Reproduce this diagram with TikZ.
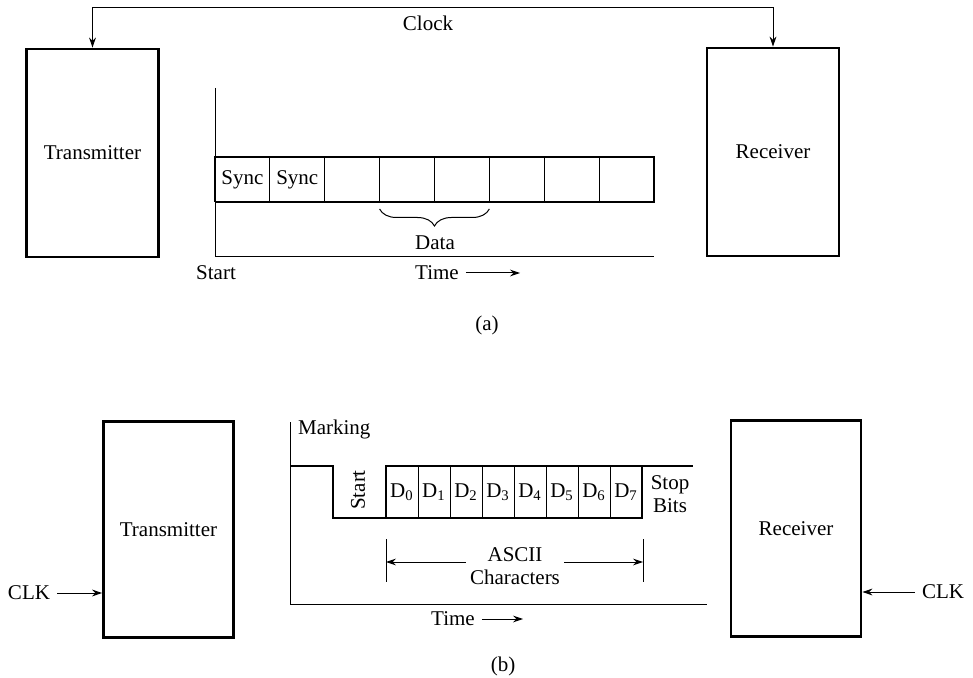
\documentclass[tikz,border=0pt]{standalone}
\usepackage{fontspec}
\setmainfont{Liberation Serif}
\usetikzlibrary{positioning, arrows.meta, decorations.pathreplacing}

\begin{document}
\begin{tikzpicture}[x=0.5pt, y=-0.5pt, line width=0.5pt,
   >={Stealth[length=5pt, width=3.4pt]},
   font=\fontsize{10.5}{11.5}\selectfont,
   unit/.style={draw, line width=1.4pt, minimum width=66pt, minimum height=104pt},
   cell/.style={draw, outer sep=0pt, inner sep=0pt, minimum width=27.44pt, minimum height=22.5pt},
   bitcell/.style={draw, outer sep=0pt, inner sep=0pt, minimum width=16pt, minimum height=26pt},
   heavy/.style={line width=1.4pt}]
   \useasboundingbox (0,0) rectangle (973,678);

   % (a) synchron: gemeinsamer Takt
   \node[unit] (txa) at (92.5,153) {Transmitter};
   \node[unit] (rxa) at (773,152) {Receiver};
   \coordinate (clk) at (430,7.5);
   \draw[->] (clk) -| (txa.north);
   \draw[->] (clk) -| (rxa.north);
   \node at (428,23) {Clock};

   % Achsen (a)
   \coordinate (ya) at (215,88);
   \coordinate (oa) at (215,257);
   \coordinate (xa) at (654,257);
   \draw (ya) -- (oa) -- (xa);

   % Rahmen mit Sync-Zeichen
   \foreach \t [count=\i from 0] in {Sync,Sync,,,,,,}
     \node[cell] (s\i) at (242.4+54.875*\i,179.5) {\t};
   \draw[heavy] (s0.north west) -| (s7.south east) -- (s0.south west);
   \draw[decorate, decoration={brace, mirror, amplitude=8.5pt}]
     ([yshift=-3.5pt]s3.south west) -- ([yshift=-3.5pt]s4.south east);
   \node at (435,243) {Data};

   \node at (216,273) {Start};
   \node (timea) at (437,273) {Time};
   \coordinate (ta) at (520,273);
   \draw[->] (timea) -- (ta);
   \node at (487,325) {(a)};

   % (b) asynchron: eigener Takt
   \node[unit, minimum width=65pt, minimum height=108pt] (txb) at (168.5,529.5) {Transmitter};
   \node[unit, minimum width=65pt, minimum height=108pt] (rxb) at (796,528.5) {Receiver};
   \node (clkl) at (29,593) {CLK};
   \node (clkr) at (943,592) {CLK};
   \draw[->] (clkl) -- (clkl -| txb.west);
   \draw[->] (clkr) -- (clkr -| rxb.east);

   % Achsen (b)
   \coordinate (yb) at (290,422);
   \coordinate (ob) at (290,604);
   \coordinate (xb) at (707,604);
   \draw (yb) -- (ob) -- (xb);
   \node[anchor=west] at (291,429) {Marking};

   % Zeichen: Start, D0..D7, Stop
   \foreach \i in {0,...,7}
     \node[bitcell] (d\i) at (402+32*\i,492) {D\textsubscript{\i}};
   \coordinate (mk) at (290,466);
   \coordinate (stp) at (693,466);
   \draw[heavy] (mk) -- (333,466) -- (333,518) -- (d0.south west) -- (d0.north west) -- (stp);
   \draw[heavy] (d0.south west) -- (d7.south east) -- (d7.north east);
   \node[rotate=90] at (358,490) {Start};
   \node[align=center] at (670,494) {Stop\\Bits};

   % ASCII-Bereich
   \draw (386,539) -- (386,582);
   \draw (643,539) -- (643,582);
   \coordinate (ml) at (386,562);
   \coordinate (mr) at (643,562);
   \node[align=center, inner sep=2pt] (ascii) at (515,566) {ASCII\\Characters};
   \draw[->] (ascii.west |- ml) -- (ml);
   \draw[->] (ascii.east |- mr) -- (mr);

   \node (timeb) at (453,619) {Time};
   \coordinate (tb) at (523,619);
   \draw[->] (timeb) -- (tb);
   \node at (503,666) {(b)};
\end{tikzpicture}
\end{document}
